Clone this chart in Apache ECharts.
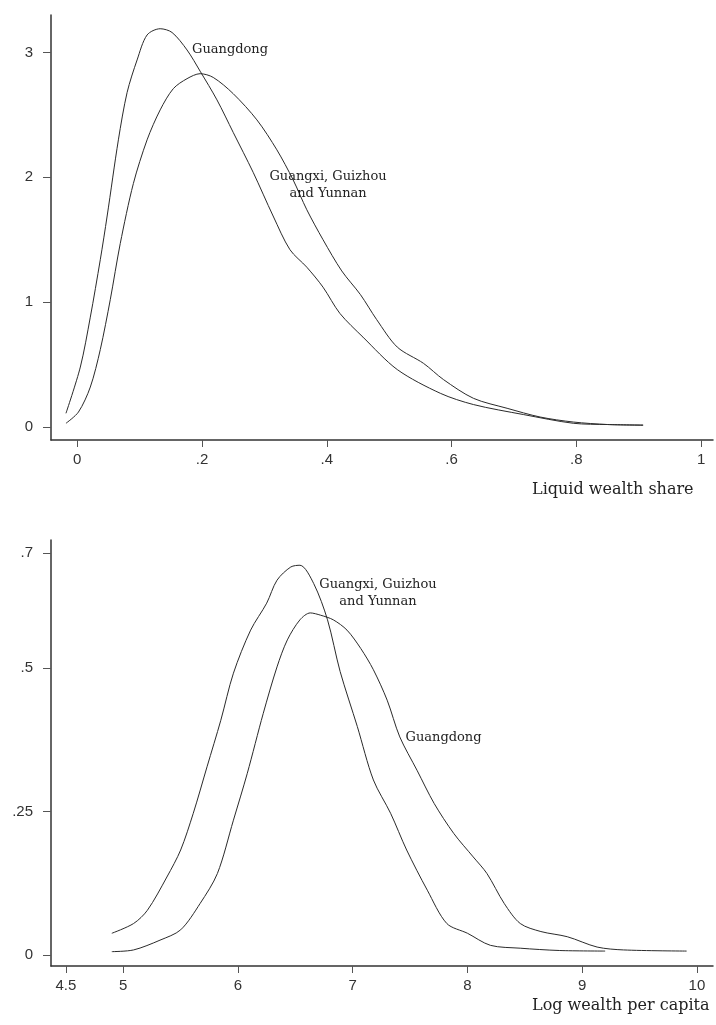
<!DOCTYPE html>
<html>
<head>
<meta charset="utf-8">
<script src="https://cdn.jsdelivr.net/npm/echarts@6/dist/echarts.min.js"></script>
<style>
  html, body { margin: 0; padding: 0; background: #fff; }
  #chart { width: 716px; height: 1025px; }
</style>
</head>
<body>
<div id="chart"></div>
<script>
// top panel: liquid wealth share densities
var shareGuangdong = [
  [-0.018, 0.11], [0.005, 0.48], [0.021, 0.88], [0.037, 1.34], [0.048, 1.69],
  [0.066, 2.30], [0.080, 2.68], [0.096, 2.94], [0.112, 3.14], [0.133, 3.19],
  [0.152, 3.16], [0.176, 3.02], [0.197, 2.85], [0.224, 2.62], [0.250, 2.36],
  [0.282, 2.04], [0.314, 1.69], [0.341, 1.42], [0.368, 1.28], [0.394, 1.12],
  [0.421, 0.91], [0.458, 0.72], [0.513, 0.46], [0.582, 0.27], [0.635, 0.18],
  [0.715, 0.10], [0.795, 0.03], [0.850, 0.02], [0.907, 0.015]
];
var shareOthers = [
  [-0.018, 0.03], [0.002, 0.12], [0.021, 0.32], [0.037, 0.62], [0.053, 1.02],
  [0.069, 1.47], [0.090, 1.95], [0.112, 2.30], [0.133, 2.54], [0.154, 2.71],
  [0.176, 2.79], [0.197, 2.83], [0.218, 2.80], [0.250, 2.67], [0.288, 2.46],
  [0.320, 2.22], [0.346, 1.98], [0.368, 1.74], [0.394, 1.50], [0.424, 1.25],
  [0.454, 1.06], [0.480, 0.86], [0.513, 0.64], [0.555, 0.51], [0.587, 0.38],
  [0.635, 0.23], [0.689, 0.15], [0.742, 0.08], [0.795, 0.04], [0.850, 0.02],
  [0.907, 0.015]
];
var shareXTicks = [0, 0.2, 0.4, 0.6, 0.8, 1];
var shareXLabels = ["0", ".2", ".4", ".6", ".8", "1"];
var shareYTicks = [0, 1, 2, 3];
var shareYLabels = ["0", "1", "2", "3"];

// bottom panel: log wealth per capita densities
var wealthOthers = [
  [4.90, 0.038], [5.09, 0.055], [5.21, 0.078], [5.38, 0.136], [5.50, 0.183],
  [5.61, 0.247], [5.73, 0.328], [5.85, 0.409], [5.96, 0.491], [6.11, 0.566],
  [6.25, 0.613], [6.34, 0.653], [6.46, 0.676], [6.54, 0.679], [6.66, 0.647],
  [6.78, 0.584], [6.89, 0.494], [7.04, 0.398], [7.18, 0.305], [7.33, 0.247],
  [7.47, 0.183], [7.65, 0.113], [7.82, 0.055], [8.00, 0.038], [8.20, 0.017],
  [8.46, 0.012], [8.80, 0.008], [9.20, 0.007]
];
var wealthGuangdong = [
  [4.90, 0.006], [5.09, 0.009], [5.32, 0.026], [5.50, 0.044], [5.67, 0.090],
  [5.82, 0.142], [5.96, 0.235], [6.08, 0.316], [6.22, 0.421], [6.34, 0.502],
  [6.43, 0.549], [6.54, 0.584], [6.63, 0.596], [6.72, 0.592], [6.83, 0.584],
  [6.95, 0.566], [7.07, 0.534], [7.18, 0.497], [7.30, 0.444], [7.41, 0.380],
  [7.56, 0.322], [7.71, 0.264], [7.88, 0.212], [8.05, 0.171], [8.17, 0.142],
  [8.32, 0.090], [8.46, 0.055], [8.64, 0.041], [8.87, 0.032], [9.13, 0.014],
  [9.36, 0.009], [9.91, 0.007]
];
var wealthXTicks = [4.5, 5, 6, 7, 8, 9, 10];
var wealthXLabels = ["4.5", "5", "6", "7", "8", "9", "10"];
var wealthYTicks = [0, 0.25, 0.5, 0.7];
var wealthYLabels = ["0", ".25", ".5", ".7"];

var axisColor = "#333";
var lineColor = "#2a2a2a";
var sansFont = "Liberation Sans";
var serifFont = "DejaVu Serif";

function labelFor(ticks, labels) {
  return function (v) {
    for (var i = 0; i < ticks.length; i++) {
      if (Math.abs(ticks[i] - v) < 1e-9) return labels[i];
    }
    return "";
  };
}

function xAxisOf(gridIndex, min, max, ticks, labels, name, namePad) {
  return {
    type: "value",
    gridIndex: gridIndex,
    min: min,
    max: max,
    splitLine: { show: false },
    axisLine: { show: true, onZero: false, lineStyle: { color: axisColor, width: 1.5 } },
    axisTick: { show: true, customValues: ticks, length: 7, lineStyle: { color: "#555", width: 1 } },
    axisLabel: {
      customValues: ticks,
      margin: 12,
      color: "#333",
      fontFamily: sansFont,
      fontSize: 15,
      formatter: labelFor(ticks, labels)
    },
    name: name,
    nameLocation: "end",
    nameGap: -181,
    nameTextStyle: {
      fontFamily: serifFont,
      fontSize: 16,
      color: "#222",
      align: "left",
      verticalAlign: "top",
      padding: [namePad, 0, 0, 0]
    }
  };
}

function yAxisOf(gridIndex, min, max, ticks, labels) {
  return {
    type: "value",
    gridIndex: gridIndex,
    min: min,
    max: max,
    splitLine: { show: false },
    axisLine: { show: true, onZero: false, lineStyle: { color: axisColor, width: 1.5 } },
    axisTick: { show: true, customValues: ticks, length: 8, lineStyle: { color: "#555", width: 1 } },
    axisLabel: {
      customValues: ticks,
      margin: 18,
      color: "#333",
      fontFamily: sansFont,
      fontSize: 15,
      formatter: labelFor(ticks, labels)
    }
  };
}

function curve(name, data, idx) {
  return {
    name: name,
    type: "line",
    xAxisIndex: idx,
    yAxisIndex: idx,
    data: data,
    symbol: "none",
    smooth: 0.3,
    lineStyle: { color: lineColor, width: 1 }
  };
}

function note(text, coord, align) {
  return {
    symbol: "circle",
    symbolSize: 1,
    itemStyle: { color: "rgba(0,0,0,0)" },
    silent: true,
    data: [{
      coord: coord,
      label: {
        show: true,
        position: "inside",
        formatter: text,
        align: align,
        color: "#222",
        fontFamily: serifFont,
        fontSize: 13,
        lineHeight: 17
      }
    }]
  };
}

var chart = echarts.init(document.getElementById("chart"));

var s1 = curve("Guangdong", shareGuangdong, 0);
s1.markPoint = note("Guangdong", [0.184, 3.02], "left");
var s2 = curve("Guangxi, Guizhou and Yunnan", shareOthers, 0);
s2.markPoint = note("Guangxi, Guizhou\nand Yunnan", [0.402, 1.94], "center");
var s3 = curve("Guangxi, Guizhou and Yunnan", wealthOthers, 1);
s3.markPoint = note("Guangxi, Guizhou\nand Yunnan", [7.22, 0.631], "center");
var s4 = curve("Guangdong", wealthGuangdong, 1);
s4.markPoint = note("Guangdong", [7.46, 0.378], "left");

chart.setOption({
  animation: false,
  backgroundColor: "#fff",
  grid: [
    { left: 51, right: 3, top: 15, bottom: 585 },
    { left: 51, right: 3, top: 540, bottom: 59 }
  ],
  xAxis: [
    xAxisOf(0, -0.042, 1.019, shareXTicks, shareXLabels, "Liquid wealth share", 42),
    xAxisOf(1, 4.37, 10.14, wealthXTicks, wealthXLabels, "Log wealth per capita", 32)
  ],
  yAxis: [
    yAxisOf(0, -0.104, 3.30, shareYTicks, shareYLabels),
    yAxisOf(1, -0.019, 0.723, wealthYTicks, wealthYLabels)
  ],
  series: [s1, s2, s3, s4]
});
</script>
</body>
</html>
